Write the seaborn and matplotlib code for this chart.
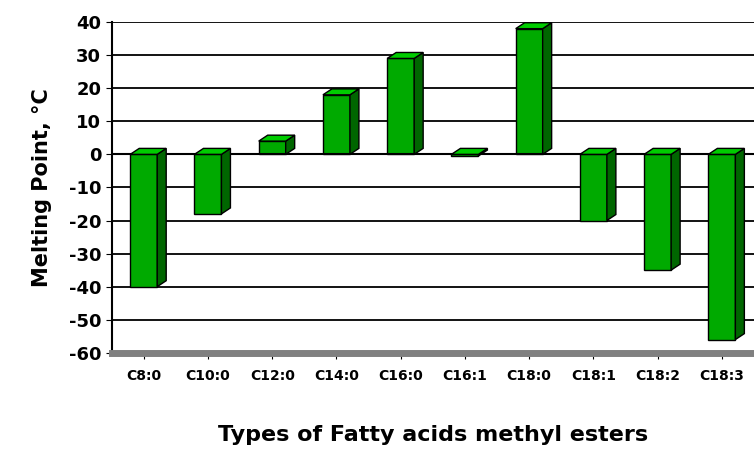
import seaborn as sns
from matplotlib import pyplot as plt
from matplotlib.patches import Polygon
import pandas as pd

esters = ["C8:0", "C10:0", "C12:0", "C14:0", "C16:0", "C16:1", "C18:0", "C18:1", "C18:2", "C18:3"]
melting = [-40, -18, 4, 18, 29, -0.5, 38, -20, -35, -56]

df = pd.DataFrame({"ester": esters, "mp": melting})

sns.set_style("white")
plt.rcParams['font.family'] = ['DejaVu Sans']
plt.rcParams['axes.unicode_minus'] = False
plt.rcParams['text.color'] = 'black'
plt.rcParams['axes.labelcolor'] = 'black'
plt.rcParams['xtick.color'] = 'black'
plt.rcParams['ytick.color'] = 'black'
fig = plt.figure(figsize=(7.54, 4.5), dpi=100)
ax = fig.add_axes([0.148, 0.216, 0.852, 0.735])

ax.set_ylim(-60, 40)
ax.set_yticks(range(-60, 41, 10))
ax.yaxis.grid(True, color="black", linewidth=1.3)
ax.set_axisbelow(True)

w = 0.42
sns.barplot(data=df, x="ester", y="mp", color="#00aa00", width=w,
            edgecolor="black", linewidth=1, saturation=1, ax=ax)
ax.set_xlim(-0.5, 9.5)

dx, dy = 0.14, 1.8
for i, v in enumerate(melting):
    lo, hi = min(0, v), max(0, v)
    r, l = i + w / 2, i - w / 2
    ax.add_patch(Polygon([(r, lo), (r + dx, lo + dy), (r + dx, hi + dy), (r, hi)],
                         closed=True, facecolor="#006600", edgecolor="black", lw=1, zorder=3))
    ax.add_patch(Polygon([(l, hi), (r, hi), (r + dx, hi + dy), (l + dx, hi + dy)],
                         closed=True, facecolor="#00cc00", edgecolor="black", lw=1, zorder=3))

ax.axhline(0, color="black", lw=1.5, zorder=1)
for s in ["top", "right"]:
    ax.spines[s].set_visible(False)
ax.spines["left"].set_color("black")
ax.spines["left"].set_linewidth(1.5)
ax.spines["bottom"].set_color("#808080")
ax.spines["bottom"].set_linewidth(5)

ax.tick_params(axis="y", labelsize=13, left=True, length=4)
ax.tick_params(axis="x", labelsize=10, bottom=True, length=4, pad=8)
for t in ax.get_yticklabels() + ax.get_xticklabels():
    t.set_fontweight("bold")
ax.set_ylabel("Melting Point, °C", fontsize=15, fontweight="bold", labelpad=12)
ax.set_xlabel("Types of Fatty acids methyl esters", fontsize=16, fontweight="bold", labelpad=30)

fig.savefig("out.png", dpi=100)
